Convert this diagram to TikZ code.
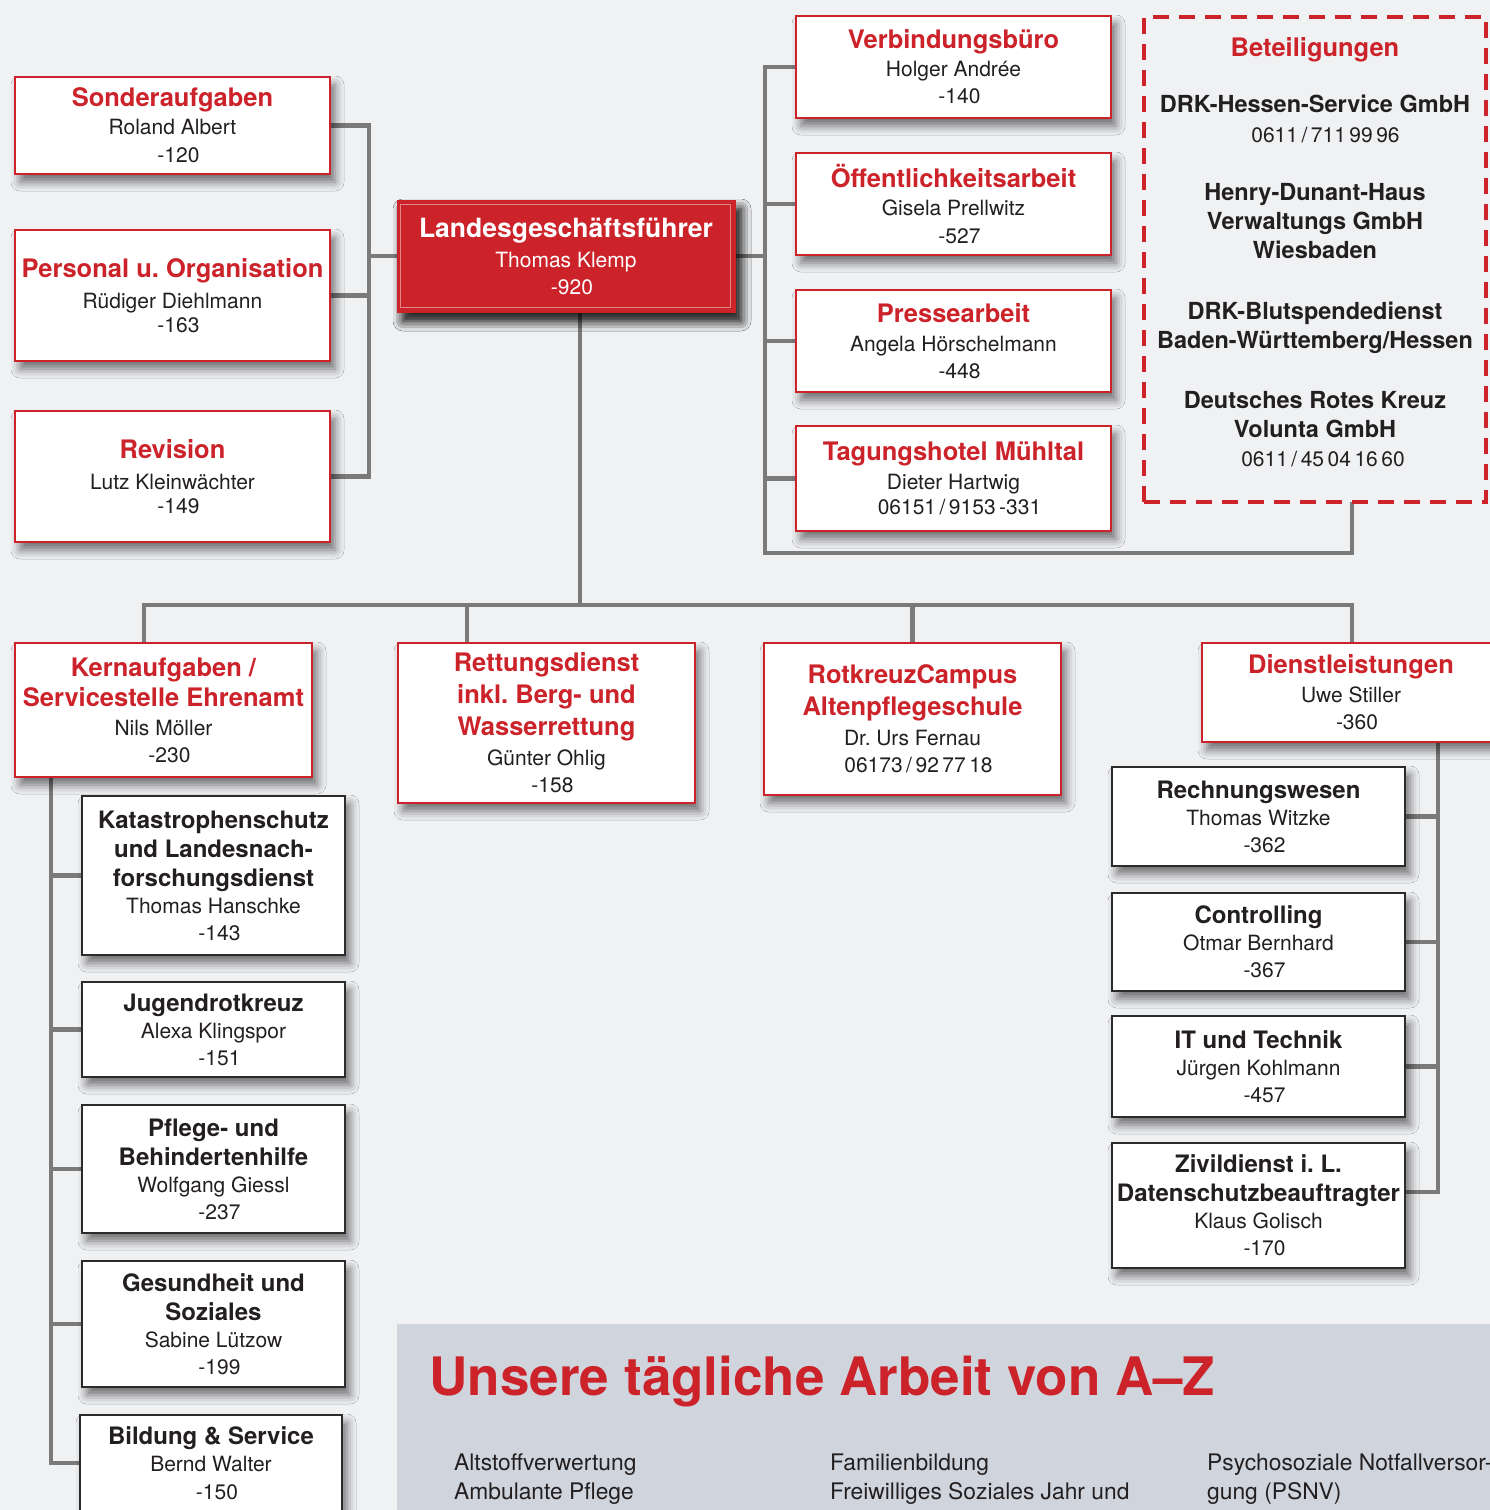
\documentclass[tikz,border=0pt]{standalone}
\usepackage{fontspec}
\setmainfont{TeX Gyre Heros}
\usetikzlibrary{shadows.blur}
\definecolor{drkred}{HTML}{CC2229}
\definecolor{bgc}{HTML}{F0F1F3}
\definecolor{panelc}{HTML}{D0D5DD}
\definecolor{lnc}{HTML}{7A7A7A}
\definecolor{txt}{HTML}{231F20}
\definecolor{bbord}{HTML}{2B2B2B}
\newcommand\myN{\fontsize{21}{27}\selectfont}
\newcommand\rtitle[1]{{\color{drkred}\fontsize{25.5}{30}\selectfont\bfseries #1}}
\newcommand\btitle[1]{{\fontsize{24}{29}\selectfont\bfseries #1}}
\newcommand\nr[1]{\hspace*{12pt}#1}
\pgfdeclarelayer{bg}
\pgfsetlayers{bg,main}
\begin{document}
\frenchspacing
\begin{tikzpicture}[x=1pt,y=-1pt,
  nbox/.style={rectangle, fill=white, inner sep=0pt, align=center, font=\myN, text=txt,
     blur shadow={shadow xshift=5pt, shadow yshift=-8pt, shadow blur radius=9pt, shadow opacity=55}},
  redbox/.style={nbox, draw=drkred, line width=2pt},
  blkbox/.style={nbox, draw=bbord, line width=2pt},
  link/.style={draw=lnc, line width=4.5pt, line cap=rect},
  plain/.style={inner sep=0pt, text=txt},
  azitem/.style={plain, anchor=base west, font=\fontsize{22.8}{29}\selectfont}]
\useasboundingbox (0,0) rectangle (1490,1510);

% ---------- top left ----------
\node[redbox, minimum width=315, minimum height=97] (sonder) at (172.5,125.5)
  {\rtitle{Sonderaufgaben}\\[1pt] Roland Albert\\[1pt] \nr{-120}};
\node[redbox, minimum width=315, minimum height=131] (personal) at (172.5,295.5)
  {\rtitle{Personal u. Organisation}\\[4pt] Rüdiger Diehlmann\\[-3pt] \nr{-163}};
\node[redbox, minimum width=315, minimum height=131] (revision) at (172.5,476.5)
  {\rtitle{Revision}\\[4pt] Lutz Kleinwächter\\[-3pt] \nr{-149}};

% ---------- head ----------
\node[nbox, fill=drkred, draw=drkred, line width=1pt, text=white, minimum width=338, minimum height=112,
   blur shadow={shadow xshift=6pt, shadow yshift=-9pt, shadow blur radius=10pt, shadow opacity=65}] (lgf) at (566,256)
  {{\fontsize{26.5}{30}\selectfont\bfseries Landesgeschäftsführer}\\[3pt] Thomas Klemp\\ \nr{-920}};
\draw[drkred!55!white, line width=0.8pt] ([shift={(4pt,-5pt)}]lgf.north west) rectangle ([shift={(-5pt,5pt)}]lgf.south east);

% ---------- top right ----------
\node[redbox, minimum width=315, minimum height=102] (verb) at (953.5,67)
  {\rtitle{Verbindungsbüro}\\[1pt] Holger Andrée\\ \nr{-140}};
\node[redbox, minimum width=315, minimum height=102] (oeff) at (953.5,204)
  {\rtitle{Öffentlichkeitsarbeit}\\[1pt] Gisela Prellwitz\\[1pt] \nr{-527}};
\node[redbox, minimum width=315, minimum height=102] (presse) at (953.5,341)
  {\rtitle{Pressearbeit}\\[2pt] Angela Hörschelmann\\ \nr{-448}};
\node[redbox, minimum width=315, minimum height=105] (tagung) at (953.5,478.5)
  {\rtitle{Tagungshotel Mühltal}\\[2pt] Dieter Hartwig\\[-2pt] \nr{06151\,/\,9153\,-331}};

% ---------- Beteiligungen ----------
\node[draw=drkred, line width=4.5pt, dash pattern=on 16pt off 10pt, minimum width=342, minimum height=485, inner sep=0pt] (beteil) at (1315,259.5) {};
\node[plain, anchor=north, align=center, font=\fontsize{23.5}{29}\selectfont\bfseries] (beteiltext) at (1315,37)
  {\rtitle{Beteiligungen}\\[27pt]
   DRK-Hessen-Service GmbH\\[1pt]
   {\mdseries\myN\hspace*{21pt}0611\,/\,711\,99\,96}\\[29pt]
   Henry-Dunant-Haus\\
   Verwaltungs GmbH\\
   Wiesbaden\\[32pt]
   DRK-Blutspendedienst\\
   Baden-Württemberg/Hessen\\[31pt]
   Deutsches Rotes Kreuz\\
   Volunta GmbH\\[0pt]
   {\mdseries\myN\hspace*{16pt}0611\,/\,45\,04\,16\,60}};

% ---------- second level ----------
\node[redbox, minimum width=297, minimum height=134] (kern) at (163.5,710)
  {\rtitle{Kernaufgaben /}\\[3pt]\rtitle{Servicestelle Ehrenamt}\\[2pt] Nils Möller\\ \nr{-230}};
\node[redbox, minimum width=297, minimum height=160] (rett) at (546.5,723)
  {\rtitle{Rettungsdienst}\\[5pt]\rtitle{inkl. Berg- und}\\[5pt]\rtitle{Wasserrettung}\\[3pt] Günter Ohlig\\ \nr{-158}};
\node[redbox, minimum width=297, minimum height=152] (rot) at (912.5,719)
  {\rtitle{RotkreuzCampus}\\[5pt]\rtitle{Altenpflegeschule}\\[3pt] Dr. Urs Fernau\\ \nr{06173\,/\,92\,77\,18}};
\node[redbox, minimum width=298, minimum height=99] (dienst) at (1351,692.5)
  {\rtitle{Dienstleistungen}\\[2pt] Uwe Stiller\\ \nr{-360}};

% ---------- left column ----------
\node[blkbox, minimum width=263, minimum height=159] (kat) at (213.5,875.5)
  {\btitle{Katastrophenschutz}\\[2pt]\btitle{und Landesnach-}\\[2pt]\btitle{forschungsdienst}\\[0pt] Thomas Hanschke\\ \nr{-143}};
\node[blkbox, minimum width=263, minimum height=95] (jug) at (213.5,1029.5)
  {\btitle{Jugendrotkreuz}\\[0pt] Alexa Klingspor\\ \nr{-151}};
\node[blkbox, minimum width=263, minimum height=128] (pfl) at (213.5,1169)
  {\btitle{Pflege- und}\\[2pt]\btitle{Behindertenhilfe}\\[0pt] Wolfgang Giessl\\ \nr{-237}};
\node[blkbox, minimum width=263, minimum height=126] (ges) at (213.5,1324)
  {\btitle{Gesundheit und}\\[2pt]\btitle{Soziales}\\[0pt] Sabine Lützow\\ \nr{-199}};
\node[blkbox, minimum width=262, minimum height=96] (bild) at (211,1463)
  {\btitle{Bildung \& Service}\\ Bernd Walter\\[1pt] \nr{-150}};

% ---------- right column ----------
\node[blkbox, minimum width=293, minimum height=99] (rech) at (1258.5,816.5)
  {\btitle{Rechnungswesen}\\[0pt] Thomas Witzke\\ \nr{-362}};
\node[blkbox, minimum width=293, minimum height=98] (contr) at (1258.5,942)
  {\btitle{Controlling}\\[0pt] Otmar Bernhard\\ \nr{-367}};
\node[blkbox, minimum width=293, minimum height=101] (itt) at (1258.5,1066.5)
  {\btitle{IT und Technik}\\[0pt] Jürgen Kohlmann\\ \nr{-457}};
\node[blkbox, minimum width=293, minimum height=125] (ziv) at (1258.5,1205.5)
  {\btitle{Zivildienst i. L.}\\[2pt]\btitle{Datenschutzbeauftragter}\\ Klaus Golisch\\ \nr{-170}};

% ---------- bottom panel ----------
\node[plain, anchor=base west, text=drkred, font=\fontsize{53}{60}\selectfont\bfseries] (aztitle) at (429,1395)
  {Unsere tägliche Arbeit von A--Z};
\node[azitem] (aza) at (454,1470) {Altstoffverwertung};
\node[azitem] (azb) at (454,1499) {Ambulante Pflege};
\node[azitem] (azc) at (830,1470) {Familienbildung};
\node[azitem] (azd) at (830,1499) {Freiwilliges Soziales Jahr und};
\node[azitem] (aze) at (1207,1470) {Psychosoziale Notfallversor-};
\node[azitem] (azf) at (1207,1499) {gung (PSNV)};

% ---------- background layer: fills and connectors ----------
\begin{pgfonlayer}{bg}
\fill[bgc] (0,0) rectangle (1490,1510);
\fill[panelc] (397,1324) rectangle (1500,1520);

\coordinate (lbus) at (369,0);
\draw[link] (sonder.east) -- (sonder.east -| lbus);
\draw[link] (personal.east) -- (personal.east -| lbus);
\draw[link] (revision.east) -- (revision.east -| lbus);
\draw[link] (sonder.east -| lbus) -- (revision.east -| lbus);
\draw[link] (lgf.west) -- (lgf.west -| lbus);

\coordinate (rbus) at (765,0);
\coordinate (rbot) at (765,553);
\coordinate (bcol) at (1352,0);
\draw[link] (lgf.east) -- (lgf.east -| rbus);
\draw[link] (verb.west) -- (verb.west -| rbus);
\draw[link] (oeff.west) -- (oeff.west -| rbus);
\draw[link] (presse.west) -- (presse.west -| rbus);
\draw[link] (tagung.west) -- (tagung.west -| rbus);
\draw[link] (verb.west -| rbus) -- (rbot) -| (beteil.south -| bcol);

\coordinate (tx) at (580,0);
\coordinate (ty) at (0,605);
\coordinate (kx) at (144,0);
\coordinate (rx) at (467,0);
\draw[link] (lgf.south -| tx) -- (tx |- ty);
\draw[link] (kern.north -| kx) |- (ty -| bcol) -- (dienst.north -| bcol);
\draw[link] (rett.north -| rx) -- (rx |- ty);
\draw[link] (rot.north) -- (rot.north |- ty);

\coordinate (lc) at (51,0);
\draw[link] (kern.south -| lc) -- (bild.west -| lc);
\draw[link] (kat.west) -- (kat.west -| lc);
\draw[link] (jug.west) -- (jug.west -| lc);
\draw[link] (pfl.west) -- (pfl.west -| lc);
\draw[link] (ges.west) -- (ges.west -| lc);
\draw[link] (bild.west) -- (bild.west -| lc);

\coordinate (rc) at (1438,0);
\coordinate (zivin) at ([yshift=13.5pt]ziv.east);
\draw[link] (dienst.south -| rc) -- (zivin -| rc);
\draw[link] (rech.east) -- (rech.east -| rc);
\draw[link] (contr.east) -- (contr.east -| rc);
\draw[link] (itt.east) -- (itt.east -| rc);
\draw[link] (zivin) -- (zivin -| rc);
\end{pgfonlayer}
\end{tikzpicture}
\end{document}
